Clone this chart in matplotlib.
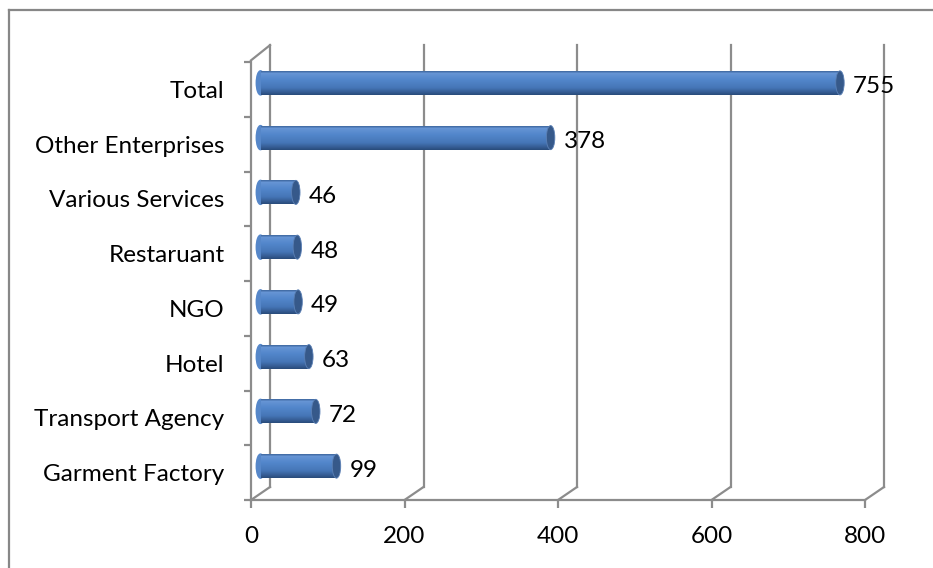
import numpy as np
from matplotlib import pyplot as plt
from matplotlib.patches import Ellipse
from matplotlib.lines import Line2D
from matplotlib.colors import LinearSegmentedColormap

# Employment by sector
categories = ["Garment Factory", "Transport Agency", "Hotel", "NGO",
              "Restaruant", "Various Services", "Other Enterprises", "Total"]
values = [99, 72, 63, 49, 48, 46, 378, 755]
xticks = [0, 200, 400, 600, 800]

grey = "#8c8c8c"
plt.rcParams['font.family'] = ['Lato', 'DejaVu Sans']

fig = plt.figure(figsize=(9.33, 5.68), dpi=100)
W, H = 933, 568
# front plane of the 3D plot box, in pixels
left, right, bottom, top = 251, 865, 500, 62
ax = fig.add_axes([left / W, 1 - bottom / H, (right - left) / W, (bottom - top) / H])
ax.set_xlim(0, 800)
ax.set_ylim(-0.5, len(categories) - 0.5)
ax.patch.set_visible(False)

# depth of the box (19px right, 13px up) in data units
p0 = ax.transData.transform((0, 0))
dx, dy = ax.transData.inverted().transform(p0 + np.array([19, 13]))
ytop = ax.get_ylim()[1]
ybot = ax.get_ylim()[0]

# back wall gridlines and floor diagonals
for x in xticks:
    ax.plot([x + dx, x + dx], [ybot + dy, ytop + dy + 0.07], color=grey, lw=1.6, clip_on=False, zorder=1)
    ax.plot([x, x + dx], [ybot, ybot + dy], color=grey, lw=1.6, clip_on=False, zorder=1)
# left wall top edge
ax.plot([0, dx], [ytop + 0.03, ytop + dy + 0.07], color=grey, lw=1.6, clip_on=False, zorder=1)

# cylinders, drawn halfway into the box
cmap = LinearSegmentedColormap.from_list("cyl", [
    (0.0, "#3c659c"), (0.1, "#6594d4"), (0.35, "#5286cb"),
    (0.7, "#4575b6"), (0.9, "#33598f"), (1.0, "#284a78")])
h = 0.44
nstrip = 24
capw = 11
for i, v in enumerate(values):
    yc = i + dy / 2
    x0 = dx / 2
    ax.add_patch(Ellipse((x0, yc), capw, h, color="#5687c9", zorder=2, clip_on=False))
    for k in range(nstrip):
        frac = (k + 0.5) / nstrip
        ys = yc + h / 2 - (k + 1) * h / nstrip
        ax.barh(ys, v, height=h / nstrip * 1.05, left=x0, align="edge",
                color=cmap(frac), lw=0, zorder=3, clip_on=False)
    ax.add_patch(Ellipse((x0 + v, yc), capw, h, facecolor="#36598a",
                         edgecolor="#5b80b5", lw=0.6, zorder=4, clip_on=False))
    ax.annotate(str(v), (x0 + v, yc), xytext=(13, -4), textcoords="offset pixels",
                ha="left", va="center", fontsize=17.5, color="black")

# axes
for s in ["top", "right"]:
    ax.spines[s].set_visible(False)
for s in ["left", "bottom"]:
    ax.spines[s].set_color(grey)
    ax.spines[s].set_linewidth(1.6)
ax.set_xticks(xticks)
ax.set_xticklabels([str(x) for x in xticks])
ax.set_yticks(range(len(categories)))
ax.set_yticklabels(categories)
ax.set_yticks(np.arange(len(categories) + 1) - 0.5, minor=True)
ax.tick_params(axis="x", length=6, width=1.6, color=grey, pad=13, labelsize=17.5)
ax.tick_params(axis="y", which="major", length=0, pad=19, labelsize=17.5)
ax.tick_params(axis="y", which="minor", length=5, width=1.6, color=grey)

# chart border
fig.add_artist(Line2D([9 / W, 9 / W], [0, 1 - 10 / H], color="#878787", lw=1.6))
fig.add_artist(Line2D([9 / W, 1], [1 - 10 / H, 1 - 10 / H], color="#878787", lw=1.6))

fig.savefig("out.png", dpi=100)
